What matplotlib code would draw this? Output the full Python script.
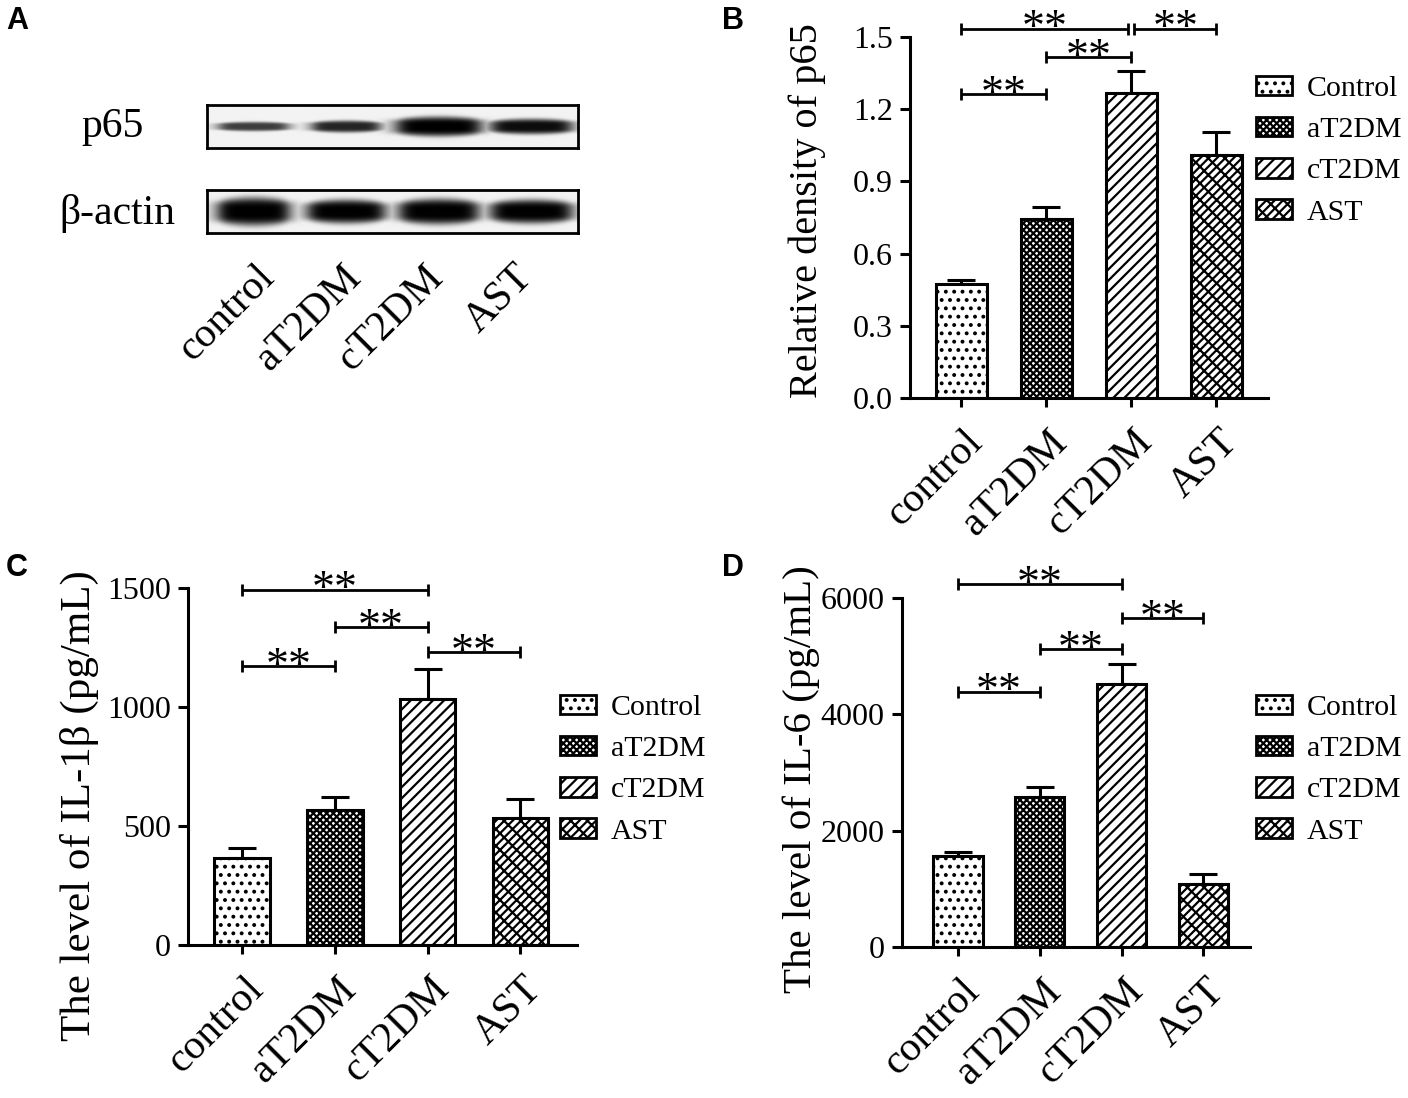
import numpy as np
import matplotlib
matplotlib.use("Agg")
import matplotlib.pyplot as plt
from matplotlib.patches import Patch
from matplotlib.transforms import ScaledTranslation

plt.rcParams.update({
    "font.family": "Liberation Serif",
    "hatch.linewidth": 1.6,
    "axes.linewidth": 2.2,
})

groups = ["control", "aT2DM", "cT2DM", "AST"]
legend_names = ["Control", "aT2DM", "cT2DM", "AST"]
hatches = ["..", "xxxxx", "///", "////\\\\"]

# western blot band estimates (darkness, half-thickness, half-width)
p65_dark = [0.75, 0.85, 1.0, 0.95]
p65_thick = [0.22, 0.28, 0.46, 0.36]
p65_width = [0.38, 0.37, 0.46, 0.44]
actin_dark = [1.0, 1.0, 1.0, 1.0]
actin_thick = [0.66, 0.56, 0.6, 0.56]
actin_width = [0.39, 0.42, 0.43, 0.44]
blot_label_pos = [0.06, 1.0, 1.88, 2.85]

p65_mean = [0.475, 0.745, 1.267, 1.01]
p65_sem = [0.015, 0.05, 0.09, 0.095]
p65_sig = [(0, 2, 1.535), (2, 3, 1.535), (1, 2, 1.415), (0, 1, 1.262)]

il1b_mean = [365, 567, 1034, 534]
il1b_sem = [42, 55, 126, 79]
il1b_sig = [(0, 2, 1492), (1, 2, 1336), (0, 1, 1172), (2, 3, 1231)]

il6_mean = [1564, 2579, 4521, 1083]
il6_sem = [69, 171, 344, 172]
il6_sig = [(0, 2, 6240), (2, 3, 5656), (1, 2, 5123), (0, 1, 4384)]

W, H = 1408, 1098
fig = plt.figure(figsize=(W / 100, H / 100), dpi=100)


def px_axes(left, right, top, bottom):
    return fig.add_axes([left / W, 1 - bottom / H, (right - left) / W, (bottom - top) / H])


def rotate_labels(ax, dx):
    off = ScaledTranslation(dx, 0, fig.dpi_scale_trans)
    for lab in ax.get_xticklabels():
        lab.set_rotation(45)
        lab.set_ha("right")
        lab.set_va("top")
        lab.set_rotation_mode("anchor")
        lab.set_transform(lab.get_transform() + off)


def blot(ax, dark, thick, width):
    x = np.linspace(-0.5, 3.5, 500)
    y = np.linspace(-1, 1, 80)
    X, Y = np.meshgrid(x, y)
    img = np.zeros_like(X)
    for i in range(len(dark)):
        dx = (X - i) / width[i]
        h = thick[i] * (1 - 0.25 * np.clip(dx, -1, 1) ** 2)
        band = dark[i] / (1 + np.abs(dx) ** 8) * np.exp(-(Y / h) ** 4)
        img = np.maximum(img, band)
    ax.imshow(1 - 0.05 - 0.95 * img, cmap="gray", vmin=0, vmax=1,
              extent=(-0.5, 3.5, -1, 1), aspect="auto", interpolation="bilinear")
    ax.set_xlim(-0.5, 3.5)
    ax.set_ylim(-1, 1)
    ax.set_yticks([])
    for s in ax.spines.values():
        s.set_linewidth(2)


def bar_panel(ax, mean, sem, sig, ymax, yticks, fmt, ylabel, ylabel_size, xlim, label_xy, legend_xy):
    x = np.arange(len(groups))
    for i in range(len(groups)):
        ax.bar(x[i], mean[i], width=0.6, color="white", edgecolor="black",
               linewidth=2.2, hatch=hatches[i], zorder=2)
    ax.errorbar(x, mean, yerr=[np.zeros(len(sem)), sem], fmt="none", ecolor="black",
                elinewidth=2.2, capsize=10, capthick=2.2, zorder=1)
    for i, j, y in sig:
        x1, x2 = x[i], x[j]
        if (i, j) == (0, 2) and any(a == 2 and b == 3 and abs(yy - y) < 1e-9 for a, b, yy in sig):
            x2 -= 0.04
        if (i, j) == (2, 3) and any(a == 0 and b == 2 and abs(yy - y) < 1e-9 for a, b, yy in sig):
            x1 += 0.04
        ax.plot([x1, x2], [y, y], color="black", lw=2, marker="|", ms=8, mew=2,
                clip_on=False, solid_capstyle="butt")
        ax.annotate("**", ((x1 + x2) / 2, y), xytext=(0, -9), textcoords="offset points",
                    ha="center", va="baseline", fontsize=33, annotation_clip=False)
    ax.set_xlim(*xlim)
    ax.set_ylim(0, ymax)
    ax.set_yticks(yticks)
    ax.set_yticklabels([fmt.format(v) for v in yticks])
    ax.set_xticks(x)
    ax.set_xticklabels(groups)
    ax.spines[["top", "right"]].set_visible(False)
    ax.tick_params(axis="y", labelsize=23, length=7.5, width=2.2, pad=5)
    ax.tick_params(axis="x", labelsize=30, length=6.5, width=2.2, pad=11)
    rotate_labels(ax, 0.02)
    ax.set_ylabel(ylabel, fontsize=ylabel_size)
    ax.yaxis.set_label_coords(*label_xy)
    handles = [Patch(facecolor="white", edgecolor="black", hatch=hatches[k], lw=2)
               for k in range(len(groups))]
    fig.legend(handles, legend_names, loc="upper left",
               bbox_to_anchor=(legend_xy[0] / W, 1 - legend_xy[1] / H),
               bbox_transform=fig.transFigure, frameon=False, fontsize=21.5,
               handlelength=1.2, handleheight=0.62, handletextpad=0.5,
               labelspacing=0.5, borderpad=0, borderaxespad=0)


# panel A: western blot
ax_p65 = px_axes(207, 578, 105, 148)
blot(ax_p65, p65_dark, p65_thick, p65_width)
ax_p65.set_xticks([])
ax_act = px_axes(207, 578, 190, 233)
blot(ax_act, actin_dark, actin_thick, actin_width)
ax_act.set_xticks(blot_label_pos)
ax_act.set_xticklabels(groups)
ax_act.tick_params(axis="x", length=0, labelsize=30, pad=18)
rotate_labels(ax_act, -0.04)
ax_p65.text(-0.17, 0.5, "p65", transform=ax_p65.transAxes, ha="right", va="center", fontsize=30)
ax_act.text(-0.085, 0.45, "β-actin", transform=ax_act.transAxes, ha="right", va="center", fontsize=30)

# panel B
ax_b = px_axes(910, 1268, 37, 398)
bar_panel(ax_b, p65_mean, p65_sem, p65_sig, 1.5, [0, 0.3, 0.6, 0.9, 1.2, 1.5], "{:.1f}",
          "Relative density of p65", 29, (-0.6, 3.61), (-0.235, 0.52), (1256, 76))

# panel C
ax_c = px_axes(188, 577, 588, 945)
bar_panel(ax_c, il1b_mean, il1b_sem, il1b_sig, 1500, [0, 500, 1000, 1500], "{:d}",
          "The level of IL-1β (pg/mL)", 31, (-0.58, 3.61), (-0.23, 0.39), (560, 695))

# panel D
ax_d = px_axes(902, 1250, 598, 947)
bar_panel(ax_d, il6_mean, il6_sem, il6_sig, 6000, [0, 2000, 4000, 6000], "{:d}",
          "The level of IL-6 (pg/mL)", 29.5, (-0.685, 3.57), (-0.235, 0.48), (1256, 695))

for letter, (lx, ly) in zip("ABCD", [(6, 6), (722, 6), (6, 553), (722, 553)]):
    fig.text(lx / W, 1 - ly / H, letter, ha="left", va="top", fontsize=22,
             fontweight="bold", family="Liberation Sans")

fig.savefig("out.png", dpi=100)
